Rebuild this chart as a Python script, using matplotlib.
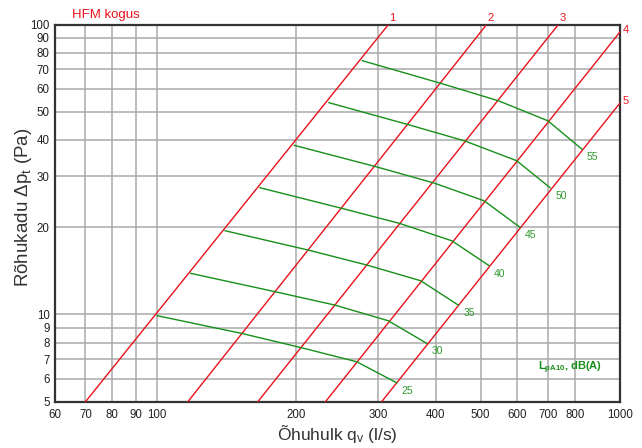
import numpy as np
import matplotlib
matplotlib.use("Agg")
import matplotlib.pyplot as plt

plt.rcParams['font.family'] = ['Liberation Sans', 'DejaVu Sans']
plt.rcParams['mathtext.fontset'] = 'custom'
plt.rcParams['mathtext.rm'] = 'Liberation Sans'
plt.rcParams['mathtext.it'] = 'Liberation Sans:italic'
plt.rcParams['mathtext.bf'] = 'Liberation Sans:bold'

# system curves (HFM kogus): flow at 5 Pa and at 100 Pa
curve_names = ['1', '2', '3', '4', '5']
curve_q_5pa = [70, 116.5, 165, 231, 305.5]
curve_q_100pa = [316, 515, 736, 1030, 1366]

# sound level lines, points where they cross curves 1..5
levels = [25, 30, 35, 40, 45, 50, 55]
level_q = [
    [100, 152.3, 203.5, 269.8, 329.3],
    [118.1, 179.7, 242.2, 315.8, 382.3],
    [140.2, 211.8, 283.6, 371.0, 447.4],
    [166.8, 250.4, 334.7, 433.6, 520.7],
    [197.8, 296.0, 396.4, 508.4, 608.1],
    [235.1, 347.1, 462.6, 598.2, 706.3],
    [277.5, 409.9, 545.9, 698.2, 826.7],
]
level_dp = [
    [9.90, 8.60, 7.70, 6.87, 5.81],
    [13.86, 11.98, 10.77, 9.51, 7.95],
    [19.44, 16.68, 14.81, 13.07, 10.77],
    [27.35, 23.23, 20.59, 17.94, 14.75],
    [38.31, 32.37, 28.40, 24.67, 19.98],
    [53.74, 45.25, 39.64, 33.90, 27.35],
    [75.03, 62.68, 54.59, 46.57, 37.20],
]

xticks = [60, 70, 80, 90, 100, 200, 300, 400, 500, 600, 700, 800, 1000]
yticks = [5, 6, 7, 8, 9, 10, 20, 30, 40, 50, 60, 70, 80, 90, 100]

RED = '#e8121c'
GREEN = '#17901a'
GREEN_TXT = '#2e9a2e'

fig = plt.figure(figsize=(6.42, 4.48), dpi=100)
ax = fig.add_axes([0.0849, 0.1033, 0.8808, 0.842])
ax.set_xscale('log')
ax.set_yscale('log')
ax.set_xlim(60, 1000)
ax.set_ylim(5, 100)

ax.set_xticks(xticks)
ax.set_xticklabels([str(v) for v in xticks])
ax.set_yticks(yticks)
ax.set_yticklabels([str(v) for v in yticks])
ax.minorticks_off()
ax.tick_params(length=0, labelsize=8.3, colors='#222222')
ax.tick_params(axis='y', pad=3.5)
ax.tick_params(axis='x', pad=5)
ax.grid(True, color='#a9a9a9', linewidth=1.1)
ax.set_axisbelow(True)
for sp in ax.spines.values():
    sp.set_color('#333333')
    sp.set_linewidth(1.6)

# red system curves
for name, q0, q1 in zip(curve_names, curve_q_5pa, curve_q_100pa):
    ax.plot([q0, q1], [5, 100], color=RED, lw=1.0, zorder=3)
    if q1 <= 1000:
        ax.annotate(name, (q1, 100), xytext=(4, 2), textcoords='offset pixels',
                    ha='center', va='bottom', color=RED, fontsize=8,
                    annotation_clip=False)
    else:
        slope = np.log(100 / 5) / np.log(q1 / q0)
        dp_edge = 5 * (1000 / q0) ** slope
        ax.annotate(name, (1000, dp_edge), xytext=(3, 2), textcoords='offset pixels',
                    ha='left', va='center', color=RED, fontsize=8,
                    annotation_clip=False)

# green sound level lines
for lvl, qs, dps in zip(levels, level_q, level_dp):
    ax.plot(qs, dps, color=GREEN, lw=1.0, zorder=4)
    ax.annotate(str(lvl), (qs[-1], dps[-1]), xytext=(5, -3), textcoords='offset pixels',
                ha='left', va='top', color=GREEN_TXT, fontsize=7.5)

ax.text(0.855, 0.089, r'L$_{\mathbf{pA10}}$, dB(A)', transform=ax.transAxes,
        ha='left', va='center', color=GREEN, fontsize=8, fontweight='bold')

ax.set_xlabel(r'Õhuhulk q$_\mathrm{v}$ (l/s)', fontsize=12.5, color='#333333', labelpad=2)
ax.set_ylabel(r'Rõhukadu Δp$_\mathrm{t}$ (Pa)', fontsize=13.5, color='#333333')
ax.yaxis.set_label_coords(-0.037, 0.515)

fig.text(0.112, 0.966, 'HFM kogus', color=RED, fontsize=9.5, ha='left', va='center')

fig.savefig('out.png', dpi=100)
